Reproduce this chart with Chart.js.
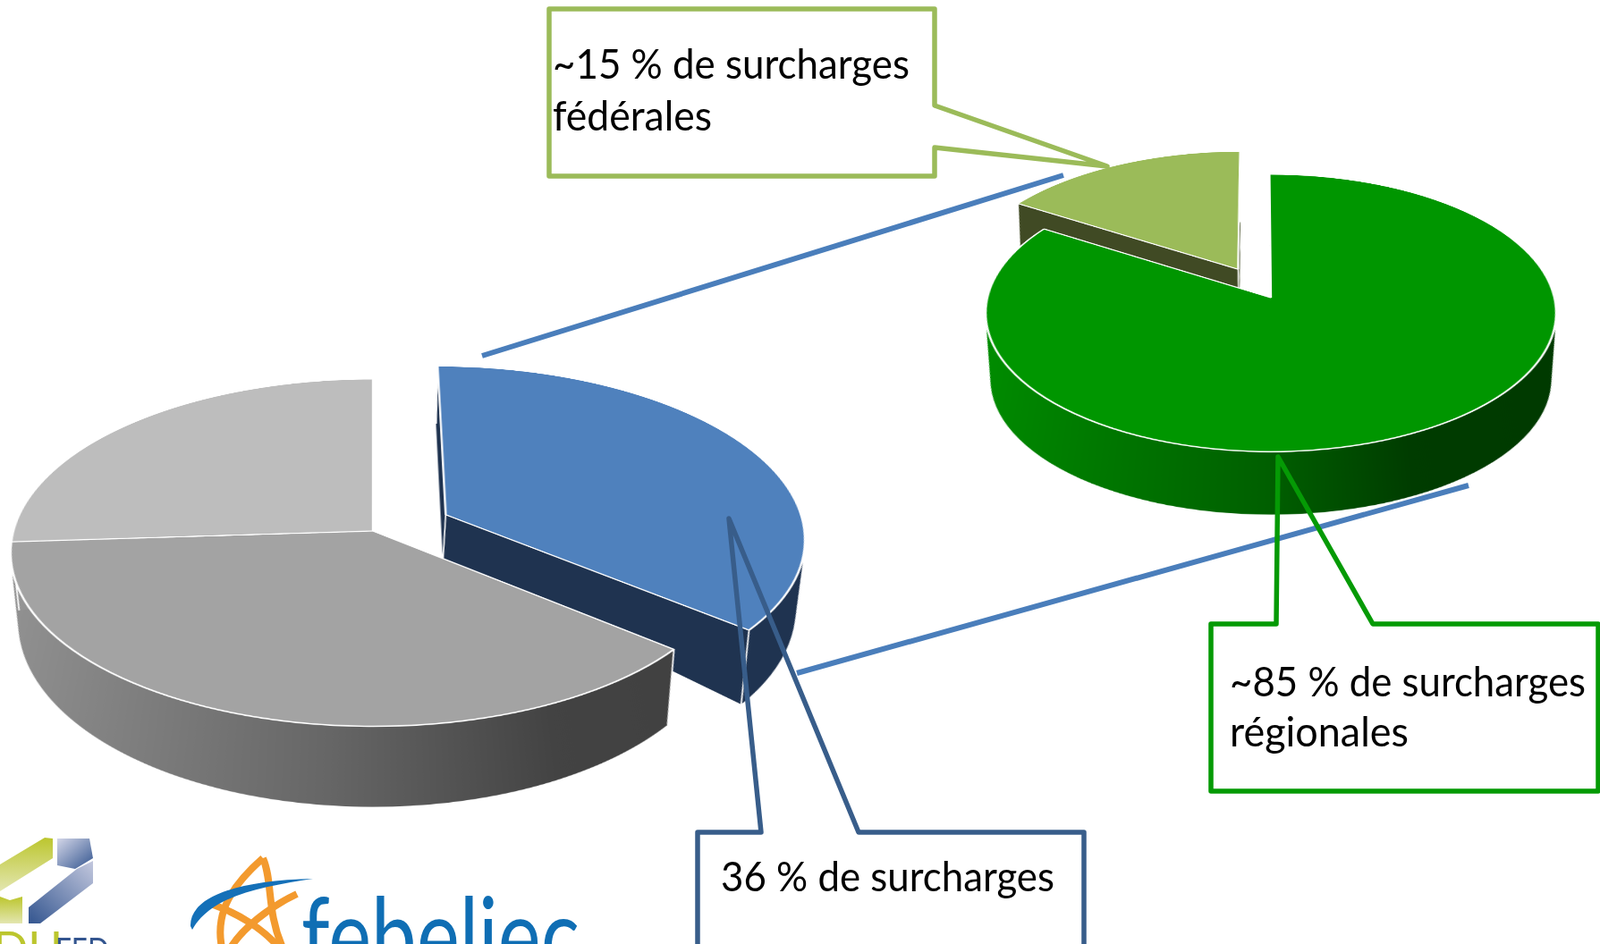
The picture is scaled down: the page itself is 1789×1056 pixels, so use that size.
<!DOCTYPE html>
<html lang="fr"><head><meta charset="utf-8">
<script src="https://cdn.jsdelivr.net/npm/chart.js@4"></script>
<style>
html,body{margin:0;padding:0;background:#fff;width:1789px;height:1056px;overflow:hidden;position:relative}
canvas{position:absolute}
svg{position:absolute;left:0;top:0}
text{font-family:Lato,"Noto Sans",sans-serif;fill:#000}
</style></head><body>
<canvas id="totalPie"></canvas>
<canvas id="surchargePie"></canvas>
<svg width="1789" height="1056" viewBox="0 0 1789 1056">
<defs>
<linearGradient id="lg1" x1="0" y1="0" x2="0" y2="1"><stop offset="0" stop-color="#bcc62e"/><stop offset="1" stop-color="#e3e6b0"/></linearGradient>
<linearGradient id="lg2" x1="0" y1="0" x2="1" y2="1"><stop offset="0" stop-color="#d3d6e8"/><stop offset="1" stop-color="#33558f"/></linearGradient>
<linearGradient id="lg3" x1="1" y1="0" x2="0" y2="1"><stop offset="0" stop-color="#c3c8de"/><stop offset="1" stop-color="#33558f"/></linearGradient>
</defs>
<g stroke="#4A7EBB" stroke-width="6" fill="none">
<line x1="539" y1="398" x2="1189" y2="196"/>
<line x1="891" y1="753" x2="1642" y2="543"/>
</g>
<path d="M614 10H1045V118L1238 186L1045 165V197H614Z" fill="none" stroke="#9BBB59" stroke-width="5.5" stroke-linejoin="round"/>
<path d="M1354 698H1427L1429 511L1535 698H1787V885H1354Z" fill="none" stroke="#059A05" stroke-width="5.5" stroke-linejoin="round"/>
<path d="M780 931H851L815 580L960 931H1212V1100H780Z" fill="none" stroke="#385D8A" stroke-width="5.5" stroke-linejoin="round"/>
<g font-size="47">
<text x="618" y="88" textLength="399" lengthAdjust="spacingAndGlyphs">~15 % de surcharges</text>
<text x="618" y="146" textLength="178" lengthAdjust="spacingAndGlyphs">fédérales</text>
<text x="1375" y="779" textLength="398" lengthAdjust="spacingAndGlyphs">~85 % de surcharges</text>
<text x="1375" y="835" textLength="200" lengthAdjust="spacingAndGlyphs">régionales</text>
<text x="806" y="997" textLength="373" lengthAdjust="spacingAndGlyphs">36 % de surcharges</text>
</g>
<path d="M50 937L59 938V960L0 997V967Z" fill="url(#lg1)"/>
<path d="M0 1003L11 1007L25 1003V1033H0Z" fill="url(#lg1)"/>
<path d="M64 938H100L104 960L84 972L64 968Z" fill="url(#lg2)"/>
<path d="M104 963V988L45 1033H32V1015L86 972Z" fill="url(#lg3)"/>
<text x="-8" y="1080" font-size="52" style="fill:#bcc62e">DU</text>
<text x="62" y="1077" font-size="38" style="fill:#33558f" textLength="60" lengthAdjust="spacingAndGlyphs">FED</text>
<g fill="none" stroke="#F39A2E" stroke-width="8">
<path d="M294 960C260 990 240 1020 248 1060"/>
<path d="M294 960C305 985 298 1020 316 1060"/>
<path d="M232 1010C265 1020 295 1040 312 1060"/>
<path d="M332 1000C300 1015 270 1040 258 1060"/>
</g>
<path d="M213 1036C212 1005 260 985 350 983C290 992 235 1003 215 1040Z" fill="#1470B8"/>
<text x="337" y="1089" font-size="118" textLength="311" lengthAdjust="spacingAndGlyphs" style="fill:#0F6EB4">febeliec</text>
</svg>
<script>
// ---- values ----
const totalLabels = ['Surcharges', 'Autres composantes 1', 'Autres composantes 2'];
const totalValues = [36, 38, 26];
const totalColors = ['#4F81BD', '#A3A3A3', '#BDBDBD'];
const surchargeLabels = ['Surcharges fédérales', 'Surcharges régionales'];
const surchargeValues = [16, 84];
const surchargeColors = ['#9BBB59', '#009600'];

const totalSides = [[[0,'#1F3350'],[1,'#1F3350']],
                    [[0,'#949494'],[.45,'#666666'],[.72,'#434343'],[1,'#404040']],
                    [[0,'#949494'],[1,'#949494']]];
const surchargeSides = [[[0,'#404A24'],[1,'#404A24']],
                        [[0,'#008E00'],[.5,'#005F00'],[.72,'#003C00'],[1,'#003A00']]];

// Pulls slices out of the pie and draws its thickness from the arcs the library laid out.
const extrude = {
  id:'extrude',
  afterDatasetsUpdate(chart,args,o){
    chart.getDatasetMeta(0).data.forEach((a,i)=>{
      if(!o.explode[i]||a._exploded) return;
      a._exploded=true;
      const orig=a.draw;
      a.draw=function(ctx){
        const mid=(this.startAngle+this.endAngle)/2;
        ctx.save();ctx.translate(Math.cos(mid)*o.explode[i],Math.sin(mid)*o.explode[i]);
        orig.call(this,ctx);ctx.restore();
      };
    });
  },
  beforeDatasetsDraw(chart,args,o){
    const ctx=chart.ctx, arcs=chart.getDatasetMeta(0).data, dpr=chart.currentDevicePixelRatio;
    arcs.forEach((a,i)=>{
      const p=a.getProps(['x','y','startAngle','endAngle','outerRadius']);
      const off=o.explode[i]||0, mid=(p.startAngle+p.endAngle)/2;
      const cx=Math.cos(mid)*off, cy=Math.sin(mid)*off, r=p.outerRadius;
      const g=ctx.createLinearGradient(-r,0,r,0);
      o.sides[i].forEach(s=>g.addColorStop(s[0],s[1]));
      // t = 1 deepest, 0 top; rim and apex sink by different amounts
      const rimPt=(t,x,y)=>[x*(1-o.shrinkX*t), y*(1+o.growY*t)+o.depth*t];
      const apexPt=t=>[cx*(1-o.shrinkX*t), cy+o.apexDepth*t];
      ctx.save();
      ctx.setTransform(dpr,0,0,dpr,0,0);
      ctx.translate(p.x,p.y);
      ctx.fillStyle=g;
      const steps=Math.ceil(o.depth*1.5);
      for(let s=steps;s>=0;s--){
        const t=s/steps, ap=apexPt(t), c0=rimPt(t,cx,cy);
        ctx.beginPath();ctx.moveTo(ap[0],ap[1]);
        ctx.ellipse(c0[0],c0[1],r*(1-o.shrinkX*t),r*(1+o.growY*t),0,p.startAngle,p.endAngle);
        ctx.closePath();ctx.fill();
      }
      ctx.strokeStyle='#fff';ctx.lineWidth=1.6;
      const corner=(ang)=>[cx+Math.cos(ang)*r,cy+Math.sin(ang)*r];
      [[apexPt(0),apexPt(1)],
       ...[p.startAngle,p.endAngle].map(ang=>{const q=corner(ang);return [rimPt(0,q[0],q[1]),rimPt(1,q[0],q[1])];})
      ].forEach(l=>{ctx.beginPath();ctx.moveTo(l[0][0],l[0][1]);ctx.lineTo(l[1][0],l[1][1]);ctx.stroke();});
      ctx.restore();
    });
  }
};

function makePie(id,labels,values,colors,sides,explode,radius,rotation,size,ax,ay,tilt,persp,depth,apexDepth,growY,shrinkX){
  const c=document.getElementById(id);
  c.width=size;c.height=size;
  c.style.left=(ax-size/2)+'px';c.style.top=(ay-size/2)+'px';
  new Chart(c,{type:'pie',plugins:[extrude],
    data:{labels,datasets:[{data:values,backgroundColor:colors,borderColor:'#fff',borderWidth:2.4}]},
    options:{responsive:false,animation:false,devicePixelRatio:2,rotation,radius,
      layout:{padding:0},
      plugins:{legend:{display:false},tooltip:{enabled:false},
        extrude:{sides,explode,depth,apexDepth,growY,shrinkX}}}});
  c.style.transformOrigin='50% 50%';
  c.style.transform='perspective('+persp+'px) rotateX('+tilt+'deg)';
}
makePie('totalPie',totalLabels,totalValues,totalColors,totalSides,[91,0,0],402,0,1500,417,594,61.6,2830,152,105,-.035,.068);
makePie('surchargePie',surchargeLabels,surchargeValues,surchargeColors,surchargeSides,[77,0],317,-57.9,1300,1421,333,61.1,2514,150,100,-.125,.068);
</script>
</body></html>
